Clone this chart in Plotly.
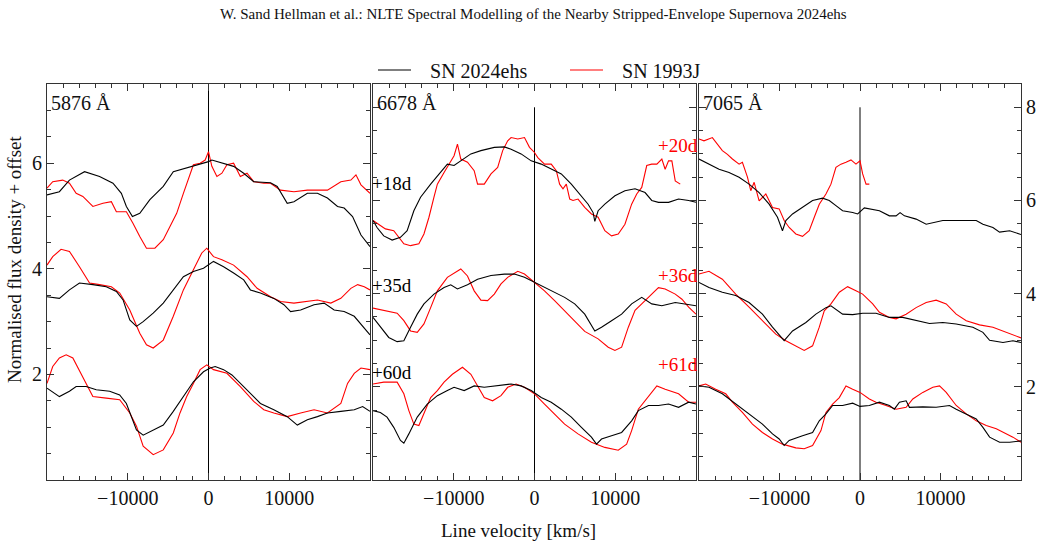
import plotly.graph_objects as go

# ---------------- data (velocity in km/s, normalised flux + offset) ----------------
# Panel 1: He I 5876
p1_ehs18_v = [-20000, -18465, -17220, -15350, -13490, -11830, -10790, -10170, -9420, -8510, -7260, -5600, -4360, -2700, -1450, 0, 415, 1660, 3110, 4360, 5600, 7680, 8510, 9750, 10580, 12240, 13490, 14730, 15980, 16800, 17840, 18880, 20000]
p1_ehs18_f = [5.40, 5.46, 5.68, 5.84, 5.75, 5.62, 5.43, 5.18, 4.99, 5.05, 5.31, 5.56, 5.84, 5.91, 5.97, 6.03, 6.06, 6.00, 5.94, 5.81, 5.65, 5.63, 5.56, 5.24, 5.27, 5.43, 5.43, 5.34, 5.18, 5.15, 4.99, 4.64, 4.42]
p1_j20_v = [-20000, -19290, -18050, -17220, -16390, -15560, -14320, -13070, -12030, -11410, -10170, -9340, -8510, -7680, -6640, -5600, -4770, -3940, -3110, -2490, -1870, -1040, -415, 0, 415, 1040, 1660, 2280, 3110, 3940, 4770, 5600, 6850, 7680, 8920, 10580, 12240, 13490, 14730, 16390, 17630, 18260, 18880, 20000]
p1_j20_f = [5.53, 5.65, 5.68, 5.62, 5.43, 5.37, 5.18, 5.24, 5.27, 5.08, 5.08, 4.86, 4.61, 4.39, 4.39, 4.55, 4.80, 5.05, 5.43, 5.68, 5.97, 6.00, 6.06, 6.22, 5.94, 5.75, 5.81, 5.97, 6.00, 5.75, 5.81, 5.65, 5.62, 5.62, 5.49, 5.46, 5.49, 5.49, 5.49, 5.65, 5.68, 5.78, 5.59, 5.43]
p1_ehs35_v = [-20000, -18465, -17220, -15980, -14320, -12660, -11410, -10580, -9750, -8920, -8090, -6850, -5600, -4360, -3110, -1870, -620, 620, 1870, 3110, 4360, 5190, 6430, 8090, 9340, 10170, 11410, 13070, 14320, 15560, 16800, 18050, 19090, 20000]
p1_ehs35_f = [3.47, 3.44, 3.60, 3.73, 3.70, 3.66, 3.57, 3.41, 3.03, 2.91, 3.00, 3.16, 3.35, 3.60, 3.85, 3.95, 4.01, 4.14, 4.04, 3.92, 3.79, 3.60, 3.54, 3.44, 3.32, 3.19, 3.22, 3.32, 3.35, 3.22, 3.19, 3.10, 2.91, 2.75]
p1_j36_v = [-20000, -19290, -18260, -17220, -15980, -14730, -13490, -12030, -10990, -9750, -8510, -7680, -6850, -5600, -4360, -3110, -1870, -830, -210, 620, 1660, 3110, 4770, 6020, 7680, 8920, 10580, 12240, 13490, 15150, 16390, 17630, 18470, 19290, 20000]
p1_j36_f = [4.07, 4.23, 4.37, 4.33, 4.04, 3.73, 3.70, 3.66, 3.54, 3.22, 2.78, 2.56, 2.50, 2.65, 3.10, 3.60, 3.98, 4.30, 4.39, 4.23, 4.17, 4.07, 3.85, 3.63, 3.47, 3.38, 3.35, 3.38, 3.41, 3.35, 3.44, 3.63, 3.70, 3.66, 3.60]
p1_ehs60_v = [-20000, -18465, -17220, -16390, -15150, -13900, -12240, -11000, -10170, -9540, -8920, -8090, -6850, -5600, -4360, -3110, -1870, -620, 210, 830, 1870, 2900, 3940, 5190, 6430, 8090, 9750, 11000, 12240, 13490, 14730, 16390, 18050, 19090, 20000]
p1_ehs60_f = [1.74, 1.58, 1.68, 1.77, 1.77, 1.71, 1.68, 1.61, 1.45, 1.20, 0.95, 0.85, 0.95, 1.04, 1.30, 1.58, 1.86, 2.05, 2.12, 2.15, 2.09, 1.99, 1.83, 1.64, 1.45, 1.33, 1.20, 1.04, 1.14, 1.20, 1.27, 1.30, 1.33, 1.39, 1.30]
p1_j61_v = [-20000, -19290, -18465, -17630, -16800, -15560, -14320, -12660, -11000, -9750, -8920, -8090, -6850, -5600, -4360, -3530, -2700, -1870, -1040, -210, 620, 2280, 3940, 5600, 6850, 8090, 9750, 11410, 13070, 14730, 16390, 17220, 18050, 18880, 20000]
p1_j61_f = [1.83, 2.15, 2.31, 2.37, 2.31, 1.96, 1.58, 1.55, 1.52, 1.27, 1.02, 0.64, 0.48, 0.57, 0.89, 1.27, 1.58, 1.83, 2.09, 2.18, 2.09, 2.02, 1.77, 1.49, 1.33, 1.27, 1.20, 1.27, 1.33, 1.27, 1.45, 1.83, 2.02, 2.12, 2.09]

# Panel 2: He I 6678
p2_ehs18_v = [-20000, -19500, -18670, -17630, -16600, -15770, -14940, -14110, -12860, -11620, -10790, -9960, -9130, -7880, -6640, -4980, -3730, -2900, -1660, -410, 830, 2070, 3320, 4560, 5810, 6640, 7260, 7470, 7880, 8710, 9960, 11200, 12450, 13690, 14520, 15350, 16600, 17840, 19090, 20000]
p2_ehs18_f = [5.57, 5.42, 5.24, 5.15, 5.21, 5.35, 5.78, 6.07, 6.35, 6.60, 6.78, 6.75, 6.85, 7.00, 7.07, 7.14, 7.15, 7.10, 7.00, 6.85, 6.78, 6.67, 6.57, 6.35, 6.10, 5.92, 5.74, 5.55, 5.78, 5.92, 6.10, 6.21, 6.25, 6.17, 6.00, 5.96, 5.96, 6.03, 6.00, 5.96]
p2_j20_v = [-20000, -19290, -18460, -17430, -16600, -16180, -15350, -14320, -13690, -13070, -12450, -12030, -11200, -10580, -9960, -9540, -9130, -8300, -7470, -7050, -6220, -5390, -4560, -3940, -3320, -2900, -2070, -1240, -620, 0, 410, 1240, 2070, 2700, 3110, 3530, 3940, 4360, 4770, 5390, 6220, 7050, 7880, 8710, 9540, 10370, 11200, 12030, 12660, 13280, 13900, 14520, 15150, 15770, 16180, 16600, 17010, 17430, 18050]
p2_j20_f = [5.57, 5.49, 5.39, 5.35, 5.17, 5.07, 5.03, 5.07, 5.28, 5.64, 6.07, 6.35, 6.60, 6.78, 6.96, 7.21, 6.89, 6.82, 6.64, 6.35, 6.35, 6.57, 6.71, 7.07, 7.28, 7.35, 7.32, 7.35, 7.14, 7.03, 6.92, 6.78, 6.78, 6.64, 6.35, 6.25, 6.35, 6.03, 6.00, 6.03, 5.85, 5.71, 5.64, 5.35, 5.24, 5.28, 5.49, 5.92, 6.14, 6.28, 6.75, 6.78, 6.78, 6.89, 6.67, 6.85, 6.85, 6.42, 6.35]
p2_ehs35_v = [-20000, -19090, -18050, -17010, -16180, -15350, -14520, -13690, -12450, -11200, -10370, -9540, -8300, -7050, -5390, -3730, -2490, -1240, 0, 1240, 2490, 3730, 4980, 6220, 7470, 8300, 9540, 10790, 12030, 13280, 14520, 15770, 17430, 18670, 20000]
p2_ehs35_f = [3.49, 3.28, 3.06, 2.97, 2.99, 3.28, 3.56, 3.78, 3.99, 4.13, 4.19, 4.10, 4.19, 4.31, 4.39, 4.42, 4.42, 4.35, 4.24, 4.13, 4.03, 3.92, 3.78, 3.56, 3.20, 3.28, 3.42, 3.56, 3.78, 3.92, 3.78, 3.74, 3.81, 3.78, 3.74]
p2_j36_v = [-20000, -18670, -17010, -16180, -15350, -14520, -13690, -12860, -12030, -10790, -9130, -8300, -7470, -6640, -5810, -4980, -4150, -3320, -2070, -1240, 0, 1240, 2490, 3730, 4980, 6220, 7880, 9130, 9960, 10790, 11620, 12450, 13280, 14520, 15350, 16180, 17430, 18260, 19090, 20000]
p2_j36_f = [3.69, 3.64, 3.58, 3.42, 3.20, 3.17, 3.35, 3.70, 4.06, 4.35, 4.53, 4.38, 4.06, 3.86, 3.85, 3.99, 4.21, 4.35, 4.48, 4.42, 4.24, 4.06, 3.85, 3.63, 3.42, 3.19, 3.03, 2.85, 2.78, 2.85, 3.28, 3.64, 3.78, 3.99, 4.13, 4.10, 3.99, 3.88, 3.71, 3.56]
p2_ehs60_v = [-20000, -19090, -18260, -17430, -16600, -16180, -15560, -14520, -13280, -12030, -10790, -9960, -8710, -7470, -6220, -4560, -2900, -1660, -410, 830, 2070, 3320, 4560, 5810, 7050, 7680, 8300, 9540, 10790, 12030, 12860, 14110, 15350, 16600, 17840, 19090, 20000]
p2_ehs60_f = [1.49, 1.45, 1.35, 1.13, 0.85, 0.79, 0.99, 1.35, 1.63, 1.81, 1.92, 1.99, 1.92, 2.02, 1.99, 2.02, 2.06, 2.02, 1.92, 1.77, 1.67, 1.52, 1.35, 1.13, 0.92, 0.77, 0.88, 0.95, 1.02, 1.27, 1.49, 1.60, 1.60, 1.63, 1.56, 1.67, 1.63]
p2_j61_v = [-20000, -18670, -17010, -16180, -15560, -14940, -14320, -13690, -12860, -12030, -11200, -10170, -8920, -7880, -7050, -6220, -5190, -4150, -3320, -2280, -1240, 0, 1240, 2490, 3730, 5390, 7050, 8710, 10370, 11410, 12030, 12860, 13900, 15150, 16180, 17840, 19090, 20000]
p2_j61_f = [2.06, 2.10, 2.10, 1.85, 1.49, 1.20, 1.17, 1.42, 1.77, 1.92, 2.10, 2.27, 2.42, 2.27, 2.02, 1.77, 1.70, 1.81, 1.99, 2.06, 1.99, 1.85, 1.63, 1.42, 1.20, 0.99, 0.81, 0.70, 0.64, 0.77, 1.06, 1.52, 1.74, 2.02, 1.95, 1.85, 1.67, 1.67]

# Panel 3: He I 7065
p3_ehs18_v = [-20000, -18760, -17510, -16270, -15020, -13780, -12530, -11290, -10250, -9630, -9210, -8380, -7140, -5890, -4650, -3820, -2990, -2160, -910, -290, 540, 1370, 2410, 3650, 4480, 4980, 5520, 6970, 8220, 10290, 11950, 13610, 14440, 15270, 16510, 17340, 18590, 20000]
p3_ehs18_f = [6.89, 6.78, 6.67, 6.60, 6.50, 6.35, 6.17, 5.92, 5.64, 5.35, 5.57, 5.71, 5.85, 6.00, 6.05, 6.00, 5.89, 5.78, 5.74, 5.71, 5.84, 5.82, 5.78, 5.67, 5.67, 5.74, 5.67, 5.60, 5.49, 5.57, 5.57, 5.57, 5.57, 5.49, 5.42, 5.32, 5.35, 5.27]
p3_j20_v = [-20000, -19380, -18340, -17720, -17100, -16470, -15850, -15020, -14610, -13980, -13570, -13150, -12530, -11700, -10870, -10040, -9420, -8800, -7970, -7140, -6310, -5680, -5060, -4230, -3610, -2990, -2370, -1740, -1120, -500, 0, 330, 750, 1160]
p3_j20_f = [7.32, 7.28, 7.35, 7.21, 7.07, 6.99, 6.89, 6.78, 6.82, 6.50, 6.21, 6.39, 5.99, 6.14, 5.85, 5.82, 5.57, 5.42, 5.28, 5.23, 5.35, 5.64, 5.92, 6.14, 6.35, 6.71, 6.78, 6.82, 6.87, 6.78, 6.85, 6.57, 6.35, 6.35]
p3_ehs35_v = [-20000, -18760, -17100, -15440, -13780, -12120, -10870, -10040, -9420, -8380, -6720, -5480, -4230, -3610, -2990, -2160, -910, 330, 1990, 3650, 5310, 6970, 8630, 10290, 11950, 14020, 15270, 16100, 17760, 19000, 20000]
p3_ehs35_f = [4.24, 4.13, 4.03, 3.96, 3.81, 3.56, 3.28, 3.10, 2.99, 3.20, 3.38, 3.56, 3.70, 3.74, 3.67, 3.56, 3.55, 3.58, 3.58, 3.49, 3.49, 3.42, 3.36, 3.38, 3.35, 3.28, 3.17, 3.00, 2.95, 2.99, 2.95]
p3_j36_v = [-20000, -18760, -17100, -15440, -13780, -12120, -10460, -9210, -7970, -6930, -5890, -5060, -4440, -3610, -2570, -1540, -500, 330, 1580, 2410, 3650, 4480, 5730, 6970, 8220, 9460, 10710, 11950, 13200, 14850, 16510, 18170, 20000]
p3_j36_f = [4.42, 4.48, 4.31, 3.99, 3.71, 3.42, 3.13, 2.99, 2.88, 2.78, 2.88, 3.28, 3.63, 3.78, 4.03, 4.15, 4.06, 3.99, 3.78, 3.60, 3.49, 3.46, 3.56, 3.70, 3.81, 3.86, 3.78, 3.56, 3.42, 3.33, 3.28, 3.17, 3.05]
p3_ehs60_v = [-20000, -18760, -17100, -15440, -13780, -12120, -10870, -10040, -9420, -8800, -7140, -5890, -5060, -4230, -3400, -2160, -910, 0, 1160, 2410, 3650, 4270, 4900, 5730, 6140, 7800, 9460, 11120, 11950, 13200, 14440, 15270, 16100, 17340, 18590, 20000]
p3_ehs60_f = [2.02, 1.99, 1.85, 1.63, 1.42, 1.20, 0.99, 0.88, 0.74, 0.85, 0.95, 1.02, 1.27, 1.42, 1.60, 1.60, 1.65, 1.58, 1.60, 1.67, 1.60, 1.52, 1.67, 1.70, 1.56, 1.57, 1.56, 1.60, 1.52, 1.42, 1.31, 1.13, 0.92, 0.81, 0.81, 0.84]
p3_j61_v = [-20000, -19170, -17930, -16680, -15850, -14610, -13360, -12120, -10870, -9630, -7970, -6930, -5890, -4850, -4230, -3400, -2570, -1740, -910, 0, 1160, 1990, 3240, 4480, 5730, 6560, 7800, 9050, 9880, 10710, 11950, 13200, 14440, 15680, 16930, 18170, 19000, 20000]
p3_j61_f = [2.02, 2.06, 1.95, 1.85, 1.67, 1.45, 1.20, 1.02, 0.88, 0.77, 0.69, 0.67, 0.74, 1.06, 1.45, 1.63, 1.77, 2.02, 1.95, 1.88, 1.74, 1.67, 1.60, 1.52, 1.56, 1.74, 1.88, 1.99, 2.02, 1.88, 1.60, 1.42, 1.27, 1.17, 1.10, 0.99, 0.92, 0.81]

line_labels = ["5876 Å", "6678 Å", "7065 Å"]
ehs_epochs = ["+18d", "+35d", "+60d"]
ehs_label_y = [6.37, 4.17, 2.31]
j_epochs = ["+20d", "+36d", "+61d"]
j_label_y = [7.17, 4.38, 2.49]
x_tickvals = [-10000, 0, 10000]
x_ticktext = ["\u221210000", "0", "10000"]
y_tickvals = [2, 4, 6, 8]
x_range = [-20000, 20000]
y_range_p1 = [0, 7.5]
y_range_p23 = [0, 8.5]
vline_top = 8.0
series_names = ["SN 2024ehs", "SN 1993J"]

BLACK = "#000000"
RED = "#ff0000"
FONT = "Liberation Serif"
LEG_PAD = "\u2002\u2009"   # gap between legend line and text

panels = [
    [(p1_ehs18_v, p1_ehs18_f, p1_j20_v, p1_j20_f), (p1_ehs35_v, p1_ehs35_f, p1_j36_v, p1_j36_f), (p1_ehs60_v, p1_ehs60_f, p1_j61_v, p1_j61_f)],
    [(p2_ehs18_v, p2_ehs18_f, p2_j20_v, p2_j20_f), (p2_ehs35_v, p2_ehs35_f, p2_j36_v, p2_j36_f), (p2_ehs60_v, p2_ehs60_f, p2_j61_v, p2_j61_f)],
    [(p3_ehs18_v, p3_ehs18_f, p3_j20_v, p3_j20_f), (p3_ehs35_v, p3_ehs35_f, p3_j36_v, p3_j36_f), (p3_ehs60_v, p3_ehs60_f, p3_j61_v, p3_j61_f)],
]

fig = go.Figure()
for pi, panel in enumerate(panels):
    xa = "x" if pi == 0 else f"x{pi+1}"
    ya = "y" if pi == 0 else f"y{pi+1}"
    for ei, (bv, bf, rv, rf) in enumerate(panel):
        fig.add_trace(go.Scatter(x=rv, y=rf, mode="lines", xaxis=xa, yaxis=ya,
                                 line=dict(color=RED, width=1.1),
                                 name=LEG_PAD + series_names[1], legendrank=2,
                                 showlegend=(pi == 0 and ei == 0)))
        fig.add_trace(go.Scatter(x=bv, y=bf, mode="lines", xaxis=xa, yaxis=ya,
                                 line=dict(color=BLACK, width=1.1),
                                 name=LEG_PAD + series_names[0], legendrank=1,
                                 showlegend=(pi == 0 and ei == 0)))

# layout geometry
L, R, T, B = 47, 23, 84, 68
W, H = 1044, 548
pw = W - L - R
ph = H - T - B
doms = [[0, (370 - L) / pw], [(373 - L) / pw, (696 - L) / pw], [(699 - L) / pw, 1.0]]

axcol = "#333333"
tickfont = dict(family=FONT, size=20, color="#111111")

def xaxis(i):
    return dict(domain=doms[i], range=x_range, tickmode="array", tickvals=x_tickvals,
                ticktext=x_ticktext, ticks="inside", ticklen=7, tickwidth=1, tickcolor=axcol,
                showline=True, linecolor=axcol, linewidth=1, mirror="ticks",
                showgrid=False, zeroline=False, tickfont=tickfont, automargin=False,
                minor=dict(tickmode="linear", tick0=0, dtick=2000, ticks="inside",
                           ticklen=4, tickcolor=axcol, showgrid=False),
                anchor="y" if i == 0 else f"y{i+1}")

def yaxis(i, rng, side, labels, prefix):
    return dict(domain=[0, 1], range=rng, tickmode="array", tickvals=y_tickvals,
                ticks="inside", ticklen=7, tickwidth=1, tickcolor=axcol,
                showline=True, linecolor=axcol, linewidth=1, mirror="ticks",
                showgrid=False, zeroline=False, tickfont=tickfont, side=side,
                showticklabels=labels, tickprefix=prefix, automargin=False,
                minor=dict(tickmode="linear", tick0=0, dtick=0.5, ticks="inside",
                           ticklen=4, tickcolor=axcol, showgrid=False),
                anchor="x" if i == 0 else f"x{i+1}")

layout = dict(
    width=W, height=H,
    margin=dict(l=L, r=R, t=T, b=B, autoexpand=False),
    paper_bgcolor="white", plot_bgcolor="white",
    font=dict(family=FONT, size=19, color="#111111"),
    xaxis=xaxis(0), xaxis2=xaxis(1), xaxis3=xaxis(2),
    yaxis=yaxis(0, y_range_p1, "left", True, ""),
    yaxis2=yaxis(1, y_range_p23, "left", False, ""),
    yaxis3=yaxis(2, y_range_p23, "right", True, "\u2009"),
    showlegend=True,
    legend=dict(orientation="h", x=(373 - L) / pw, xanchor="left",
                y=(H - B - 70) / ph, yanchor="middle",
                font=dict(family=FONT, size=20, color="#111111"),
                bgcolor="rgba(0,0,0,0)", itemwidth=33, entrywidth=144,
                traceorder="normal"),
)
fig.update_layout(**layout)

# vertical zero-velocity lines
shapes = []
for i, rng in enumerate([y_range_p1, y_range_p23, y_range_p23]):
    xr = "x" if i == 0 else f"x{i+1}"
    yr = "y" if i == 0 else f"y{i+1}"
    shapes.append(dict(type="line", xref=xr, yref=yr, x0=0, x1=0, y0=rng[0],
                       y1=min(vline_top, rng[1]), line=dict(color=BLACK, width=1), layer="below"))
fig.update_layout(shapes=shapes)

ann = []
for i, lab in enumerate(line_labels):
    xr = "x domain" if i == 0 else f"x{i+1} domain"
    yr = "y domain" if i == 0 else f"y{i+1} domain"
    ann.append(dict(text=lab, xref=xr, yref=yr, x=0.005, y=(H - B - 103) / ph,
                    xanchor="left", yanchor="middle", showarrow=False,
                    font=dict(family=FONT, size=20, color="#111111")))
for lab, yv in zip(ehs_epochs, ehs_label_y):
    ann.append(dict(text=lab, xref="x2", yref="y2", x=x_range[0], y=yv, xanchor="left",
                    yanchor="middle", showarrow=False, xshift=-3,
                    font=dict(family=FONT, size=19, color=BLACK)))
for lab, yv in zip(j_epochs, j_label_y):
    ann.append(dict(text=lab, xref="x2", yref="y2", x=x_range[1], y=yv, xanchor="right",
                    yanchor="middle", showarrow=False, xshift=4,
                    font=dict(family=FONT, size=19, color=RED)))
# axis titles and figure title
ann.append(dict(text="Line velocity [km/s]", xref="paper", yref="paper",
                x=(518 - L) / pw, y=(H - B - 530) / ph, xanchor="center",
                yanchor="middle", showarrow=False, font=dict(family=FONT, size=19)))
ann.append(dict(text="Normalised flux density + offset", xref="paper", yref="paper",
                x=(14 - L) / pw, y=(H - B - 260) / ph, xanchor="center",
                yanchor="middle", textangle=-90, showarrow=False,
                font=dict(family=FONT, size=19)))
ann.append(dict(text="W. Sand Hellman et al.: NLTE Spectral Modelling of the Nearby Stripped-Envelope Supernova 2024ehs",
                xref="paper", yref="paper", x=(533 - L) / pw, y=(H - B - 14) / ph,
                xanchor="center", yanchor="middle", showarrow=False,
                font=dict(family=FONT, size=15, color="#111111")))
fig.update_layout(annotations=ann)

fig.write_html("out.html")
